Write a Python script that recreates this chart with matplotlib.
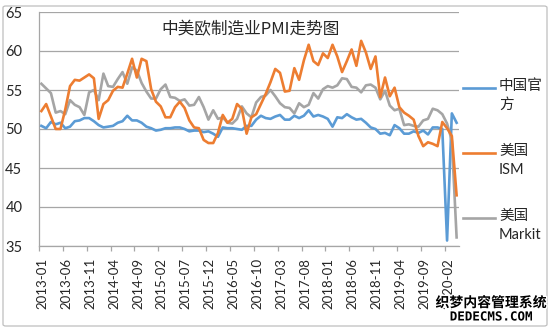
import matplotlib
matplotlib.use("Agg")
import matplotlib.pyplot as plt
from matplotlib.lines import Line2D
from matplotlib.patches import FancyBboxPatch
import matplotlib.transforms as mtransforms
import matplotlib.patheffects as pe

plt.rcParams['font.family'] = ['Lato', 'Noto Sans CJK SC', 'DejaVu Sans']

# Months 2013-01 .. 2020-04
months = [f"{y}-{m:02d}" for y in range(2013, 2021) for m in range(1, 13)][:88]

china_official = [
    50.4, 50.1, 50.9, 50.6, 50.8, 50.1, 50.3, 51.0, 51.1, 51.4, 51.4, 51.0,
    50.5, 50.2, 50.3, 50.4, 50.8, 51.0, 51.7, 51.1, 51.1, 50.8, 50.3, 50.1,
    49.8, 49.9, 50.1, 50.1, 50.2, 50.2, 50.0, 49.7, 49.8, 49.8, 49.6, 49.7,
    49.4, 49.0, 50.2, 50.1, 50.1, 50.0, 49.9, 50.4, 50.4, 51.2, 51.7, 51.4,
    51.3, 51.6, 51.8, 51.2, 51.2, 51.7, 51.4, 51.7, 52.4, 51.6, 51.8, 51.6,
    51.3, 50.3, 51.5, 51.4, 51.9, 51.5, 51.2, 51.3, 50.8, 50.2, 50.0, 49.4,
    49.5, 49.2, 50.5, 50.1, 49.4, 49.4, 49.7, 49.5, 49.8, 49.3, 50.2, 50.2,
    50.0, 35.7, 52.0, 50.8,
]

us_ism = [
    52.3, 53.2, 51.6, 50.0, 50.0, 52.5, 55.5, 56.3, 56.2, 56.6, 57.0, 56.5,
    51.3, 53.2, 53.7, 54.9, 55.4, 55.3, 57.1, 59.0, 56.6, 59.0, 58.7, 55.1,
    53.5, 52.9, 51.5, 51.5, 52.8, 53.5, 52.7, 51.1, 50.2, 50.1, 48.6, 48.2,
    48.2, 49.5, 51.8, 50.8, 51.3, 53.2, 52.6, 49.4, 51.5, 51.9, 53.2, 54.5,
    56.0, 57.7, 57.2, 54.8, 54.9, 57.8, 56.3, 58.8, 60.8, 58.7, 58.2, 59.7,
    59.1, 60.8, 59.3, 57.3, 58.7, 60.2, 58.1, 61.3, 59.8, 57.7, 59.3, 54.1,
    56.6, 54.2, 55.3, 52.8, 52.1, 51.7, 51.2, 49.1, 47.8, 48.3, 48.1, 47.8,
    50.9, 50.1, 49.1, 41.5,
]

us_markit = [
    55.8, 55.2, 54.6, 52.1, 52.3, 51.9, 53.7, 53.1, 52.8, 51.8, 54.7, 55.0,
    53.7, 57.1, 55.5, 55.4, 56.4, 57.3, 55.8, 57.9, 57.5, 55.9, 54.8, 53.9,
    53.9, 55.1, 55.7, 54.1, 54.0, 53.6, 53.8, 53.0, 53.1, 54.1, 52.8, 51.2,
    52.4, 51.3, 51.5, 50.8, 50.7, 51.3, 52.9, 52.0, 51.5, 53.4, 54.1, 54.3,
    55.0, 54.2, 53.3, 52.8, 52.7, 52.0, 53.3, 52.8, 53.1, 54.6, 53.9, 55.1,
    55.5, 55.3, 55.6, 56.5, 56.4, 55.4, 55.3, 54.7, 55.6, 55.7, 55.3, 53.8,
    54.9, 53.0, 52.4, 52.6, 50.5, 50.6, 50.4, 50.3, 51.1, 51.3, 52.6, 52.4,
    51.9, 50.7, 48.5, 36.1,
]

series_names = ["中国官\n方", "美国\nISM", "美国\nMarkit"]
colors = ["#5B9BD5", "#ED7D31", "#A5A5A5"]
title = "中美欧制造业PMI走势图"

W, H = 550, 331
fig = plt.figure(figsize=(W / 100, H / 100), dpi=100)
ax = fig.add_axes([39 / W, 1 - 246 / H, (459 - 39) / W, (246 - 12) / H])

n = len(months)
xs = [i + 0.5 for i in range(n)]
for vals, c in zip([china_official, us_markit, us_ism], [colors[0], colors[2], colors[1]]):
    ax.plot(xs, vals, color=c, lw=1.9, solid_joinstyle='round', zorder=3)

ax.set_xlim(0, n)
ax.set_ylim(35, 65)
ax.set_yticks(range(35, 66, 5))
ax.grid(axis='y', color='#A6A6A6', lw=0.9)
ax.set_axisbelow(True)
for s in ['top', 'right']:
    ax.spines[s].set_visible(False)
ax.spines['left'].set_color('#A6A6A6')
ax.spines['bottom'].set_color('#A6A6A6')
ax.spines['left'].set_linewidth(0.9)
ax.spines['bottom'].set_linewidth(0.9)

tick_pos = list(range(0, n, 5))
ax.set_xticks(tick_pos)
ax.set_xticklabels([months[i] for i in tick_pos], rotation=90, fontsize=9.5, color='#262626')
ax.tick_params(axis='x', length=3.5, width=0.9, color='#A6A6A6', pad=5)
ax.tick_params(axis='y', length=0, pad=12, labelsize=10.5, labelcolor='#262626')
offset = mtransforms.ScaledTranslation(3.5 / 100, 0, fig.dpi_scale_trans)
for lab in ax.get_xticklabels():
    lab.set_transform(lab.get_transform() + offset)

ax.text(0.5 * (160 + 342) / W, 1 - 30 / H, title, transform=fig.transFigure,
        ha='center', va='center', fontsize=12, color='#262626',
        family=['Noto Sans CJK SC', 'DejaVu Sans'])

# legend
leg_y = [88, 153, 218]
for name, c, y in zip(series_names, colors, leg_y):
    fig.add_artist(Line2D([463 / W, 495 / W], [1 - y / H, 1 - y / H], color=c, lw=1.9,
                          transform=fig.transFigure))
    fig.text(499 / W, 1 - (y - 9) / H, name, ha='left', va='top', fontsize=10.5,
             color='#262626', linespacing=1.45)

# outer border
fig.add_artist(FancyBboxPatch((3 / W, 5 / H), (544 / W), (320 / H),
                              boxstyle='round,pad=0,rounding_size=0.005',
                              transform=fig.transFigure, fill=False,
                              edgecolor='#BFBFBF', lw=0.9))

# watermark
fig.text(491 / W, 1 - 303 / H, "织梦内容管理系统", ha='center', va='center', fontsize=10,
         fontweight='bold', color='black',
         family=['Noto Sans CJK SC', 'DejaVu Sans'],
         path_effects=[pe.withStroke(linewidth=2, foreground='white')])
fig.text(491 / W, 1 - 317 / H, "DEDECMS.COM", ha='center', va='center', fontsize=9,
         fontweight='bold', color='black', family=['DejaVu Sans Mono'],
         path_effects=[pe.withStroke(linewidth=2, foreground='white')])

fig.savefig("out.png", dpi=100)
